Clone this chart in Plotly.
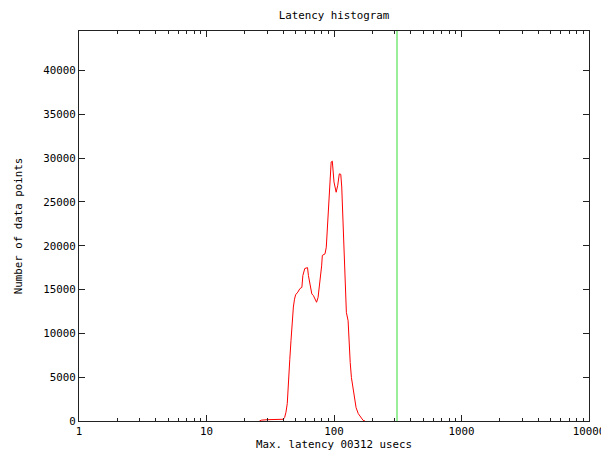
import plotly.graph_objects as go

# Latency bins (usecs) and counts
latency = [26, 27, 30, 35, 40, 41, 42, 43, 44, 45, 46, 47, 48, 49, 50, 52, 54, 56, 57, 59,
           62, 63, 65, 67, 69, 71, 73, 75, 77, 79, 80, 81, 85, 87, 88, 90, 91, 93, 95, 97,
           98, 100, 104, 107, 110, 113, 115, 117, 118, 121, 123, 125, 129, 131, 134, 137,
           141, 144, 149, 155, 162, 169, 175]
counts = [0, 100, 150, 180, 200, 400, 1000, 2000, 4000, 7000, 9200, 12000, 13000, 13900, 14400,
          14700, 15100, 15250, 16600, 17400, 17500, 16600, 15400, 14500, 14300, 14000, 13550,
          14100, 15400, 16600, 17700, 18900, 19070, 19830, 21160, 23450, 24400, 27100, 29550,
          29650, 28600, 27260, 26100, 26900, 28200, 28150, 26700, 24000, 21160, 17960, 14870,
          12400, 11440, 9150, 6670, 4950, 3810, 2480, 1520, 840, 380, 80, 0]

max_latency = 312
y_max = 44500

x_major = [1, 10, 100, 1000, 10000]
x_labels = ["1", "10", "100", "1000", "10000"]
x_minor = [m * d for d in [1, 10, 100, 1000] for m in range(2, 10)]
y_ticks = [0, 5000, 10000, 15000, 20000, 25000, 30000, 35000, 40000]

FONT = "DejaVu Sans Mono"
FS = 10.8

fig = go.Figure()
fig.add_trace(go.Scatter(x=latency, y=counts, mode="lines",
                         line=dict(color="#ff0000", width=1), showlegend=False))
fig.add_trace(go.Scatter(x=[max_latency, max_latency], y=[0, y_max], mode="lines",
                         line=dict(color="#33dd33", width=1), showlegend=False))

# page body has an 8px margin, so the figure is sized/positioned to compensate
fig.update_layout(
    width=601, height=446,
    margin=dict(l=71, r=20, t=23, b=33, autoexpand=False),
    paper_bgcolor="white", plot_bgcolor="white",
    font=dict(family=FONT, size=FS, color="black"),
    title=dict(text="Latency histogram", x=(334 - 8) / 601, xanchor="center", y=1 - 7 / 446,
               yanchor="middle", font=dict(family=FONT, size=FS, color="black")),
)
fig.update_xaxes(
    type="log", range=[0, 4], showgrid=False, zeroline=False,
    showline=True, linecolor="#222", linewidth=1, mirror="ticks",
    ticks="inside", ticklen=6, tickcolor="#222",
    tickmode="array", tickvals=x_major, ticktext=x_labels,
    minor=dict(tickmode="array", tickvals=x_minor, ticks="inside", ticklen=3, tickcolor="#222"),
    title=dict(text="Max. latency 00312 usecs", standoff=3, font=dict(family=FONT, size=FS)),
    automargin=False,
)
fig.update_yaxes(
    range=[0, y_max], showgrid=False, zeroline=False,
    showline=True, linecolor="#222", linewidth=1, mirror="ticks",
    ticks="inside", ticklen=6, tickcolor="#222",
    tickmode="array", tickvals=y_ticks, ticktext=[str(v) for v in y_ticks],
    title=dict(text="Number of data points", standoff=18, font=dict(family=FONT, size=FS)),
    automargin=False,
)

fig.write_html("out.html")
